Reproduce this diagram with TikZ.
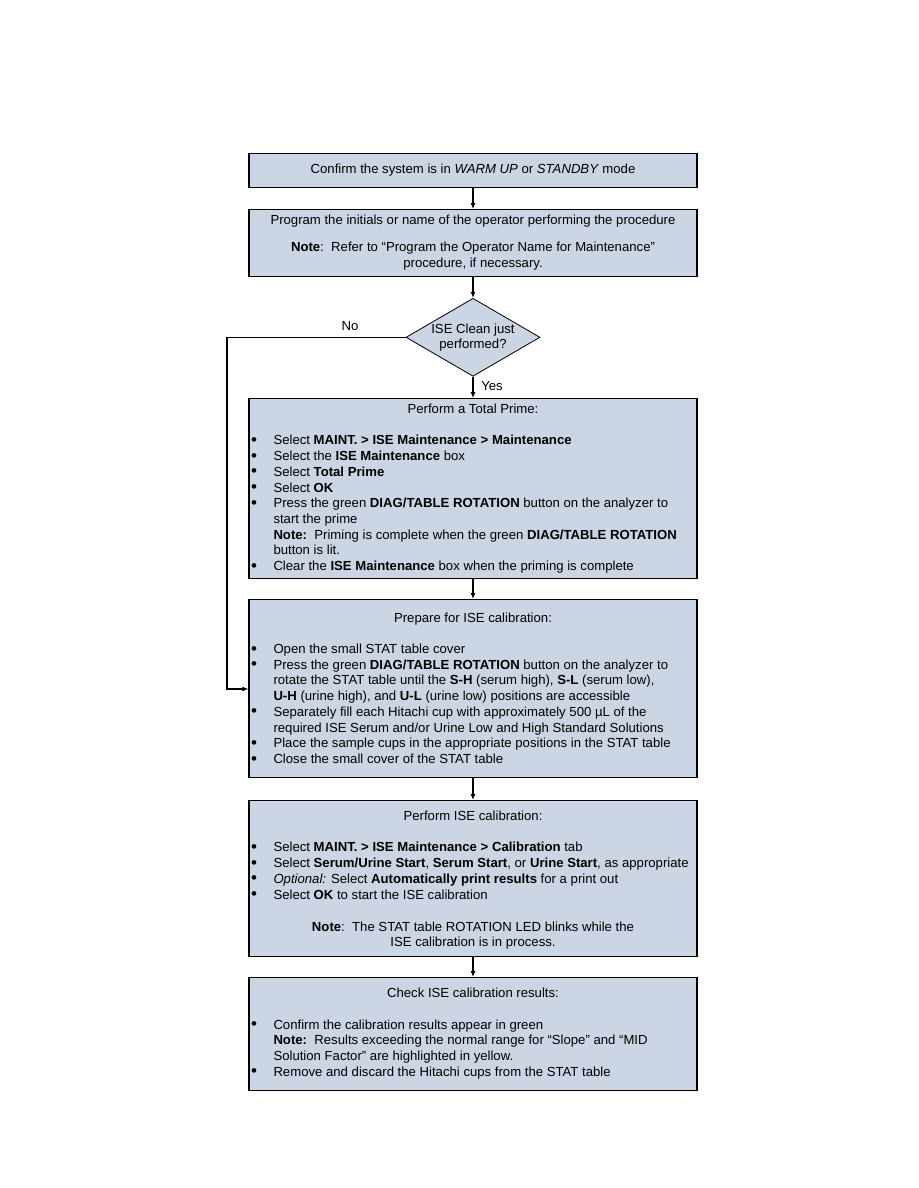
\documentclass[tikz,border=0pt]{standalone}
\usepackage{fontspec}
\setmainfont{Liberation Sans}
\usetikzlibrary{arrows.meta,shapes.geometric}
\definecolor{boxfill}{RGB}{203,213,227}
\newcommand\tp{\rule{0pt}{10pt}}
\newcommand\bl{\makebox[22.3pt][l]{\raisebox{-0.6pt}{\fontsize{17}{15.7}\selectfont •}}}
\newcommand\ind{\hspace*{22.3pt}}
\tikzset{
  box/.style={draw=black, line width=1.1pt, fill=boxfill, minimum width=448pt, inner sep=0pt, anchor=north},
  dia/.style={diamond, draw=black, line width=0.8pt, fill=boxfill, minimum width=134pt, minimum height=78pt, inner sep=0pt},
  txt/.style={inner sep=0pt, font=\fontsize{13.15}{15.7}\selectfont},
  blk/.style={txt, align=left, anchor=north west},
  ctr/.style={txt, align=center, anchor=north},
  arr/.style={line width=1.1pt, -{Latex[length=6pt,width=5pt]}},
  ln/.style={line width=1.1pt}
}
\begin{document}
\begin{tikzpicture}[x=1pt,y=-1pt]
\useasboundingbox (0,0) rectangle (918,1188);
% boxes
\node[box, minimum height=34pt] (b1) at (473,153) {};
\node[box, minimum height=67pt] (b2) at (473,209) {};
\node[dia] (d) at (473,337.3) {};
\node[box, minimum height=180pt] (b3) at (473,398) {};
\node[box, minimum height=178pt] (b4) at (473,599) {};
\node[box, minimum height=156pt] (b5) at (473,800) {};
\node[box, minimum height=113pt] (b6) at (473,977) {};
% box 1
\node[txt, anchor=base] (t1) at (473,173.5) {Confirm the system is in \textit{WARM UP} or \textit{STANDBY} mode};
% box 2
\node[txt, anchor=base] (t2a) at (473,224.5) {Program the initials or name of the operator performing the procedure};
\node[ctr] (t2b) at (473,241.5) {\tp\textbf{Note}:\ \ Refer to “Program the Operator Name for Maintenance”\\procedure, if necessary.};
% decision
\node[ctr, font=\fontsize{13.15}{15}\selectfont] (dt) at (473,323.3) {\tp ISE Clean just\\performed?};
% box 3
\node[txt, anchor=base] (t3a) at (473,413.5) {Perform a Total Prime:};
\node[blk] (t3b) at (251,434.7) {\tp\bl Select \textbf{MAINT. > ISE Maintenance > Maintenance}\\
\bl Select the \textbf{ISE Maintenance} box\\
\bl Select \textbf{Total Prime}\\
\bl Select \textbf{OK}\\
\bl Press the green \textbf{DIAG/TABLE ROTATION} button on the analyzer to\\
\ind start the prime\\
\ind \textbf{Note:}\ \ Priming is complete when the green \textbf{DIAG/TABLE ROTATION}\\
\ind button is lit.\\
\bl Clear the \textbf{ISE Maintenance} box when the priming is complete};
% box 4
\node[txt, anchor=base] (t4a) at (473,622) {Prepare for ISE calibration:};
\node[blk] (t4b) at (251,643.3) {\tp\bl Open the small STAT table cover\\
\bl Press the green \textbf{DIAG/TABLE ROTATION} button on the analyzer to\\
\ind rotate the STAT table until the \textbf{S-H} (serum high), \textbf{S-L} (serum low),\\
\ind \textbf{U-H} (urine high), and \textbf{U-L} (urine low) positions are accessible\\
\bl Separately fill each Hitachi cup with approximately 500 µL of the\\
\ind required ISE Serum and/or Urine Low and High Standard Solutions\\
\bl Place the sample cups in the appropriate positions in the STAT table\\
\bl Close the small cover of the STAT table};
% box 5
\node[txt, anchor=base] (t5a) at (473,820.3) {Perform ISE calibration:};
\node[blk] (t5b) at (251,841.7) {\tp\bl Select \textbf{MAINT. > ISE Maintenance > Calibration} tab\\
\bl Select \textbf{Serum/Urine Start}, \textbf{Serum Start}, or \textbf{Urine Start}, as appropriate\\
\bl \textit{Optional:} Select \textbf{Automatically print results} for a print out\\
\bl Select \textbf{OK} to start the ISE calibration};
\node[ctr] (t5c) at (473,921) {\tp\textbf{Note}:\ \ The STAT table ROTATION LED blinks while the\\ISE calibration is in process.};
% box 6
\node[txt, anchor=base] (t6a) at (473,997.6) {Check ISE calibration results:};
\node[blk] (t6b) at (251,1019) {\tp\bl Confirm the calibration results appear in green\\
\ind \textbf{Note:}\ \ Results exceeding the normal range for “Slope” and “MID\\
\ind Solution Factor” are highlighted in yellow.\\
\bl Remove and discard the Hitachi cups from the STAT table};
% connectors
\draw[arr] (b1.south) -- (b2.north);
\draw[arr] (b2.south) -- (d.north);
\draw[arr] (d.south) -- (b3.north);
\draw[arr] (b3.south) -- (b4.north);
\draw[arr] (b4.south) -- (b5.north);
\draw[arr] (b5.south) -- (b6.north);
\coordinate (nocorner) at (227,337.3);
\coordinate (noy) at (0,689);
\draw[arr] (d.west) -- (nocorner) |- (b4.west |- noy);
% labels
\node[txt, anchor=base] (no) at (350,330) {No};
\node[txt, anchor=base] (yes) at (492,390) {Yes};
\end{tikzpicture}
\end{document}
